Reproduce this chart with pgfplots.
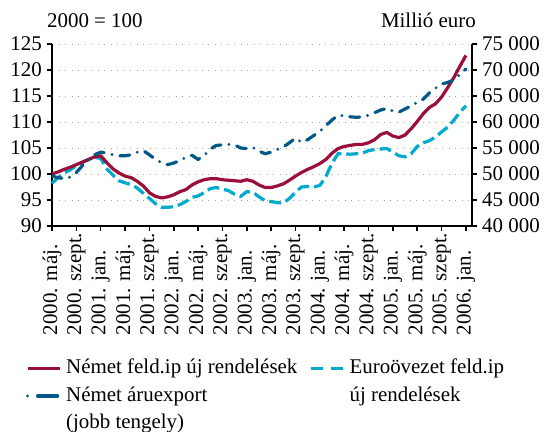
\documentclass[border=0pt]{standalone}
\usepackage{pgfplots}
\usepackage{pgfplotstable}
\pgfplotsset{compat=1.18}
\usepackage{fontspec}
\setmainfont{Liberation Serif}
\definecolor{cred}{RGB}{155,15,58}
\definecolor{ccyan}{RGB}{0,170,204}
\definecolor{cblue}{RGB}{0,88,135}
\newcommand{\xl}[1]{\makebox[104bp][l]{#1}}

\pgfplotstableread{
m  nemet  euro   export
0  100.0  98.2   49600
1  100.4  99.3   49300
2  100.9  100.2  49100
3  101.3  100.8  49400
4  101.8  101.6  50300
5  102.3  102.2  51600
6  102.8  102.8  52700
7  103.3  103.2  53700
8  103.5  103.0  54200
9  102.2  101.0  54000
10 101.0  99.8   53700
11 100.2  98.7   53500
12 99.6   98.3   53500
13 99.3   98.0   53700
14 98.6   97.3   54200
15 97.7   96.3   54500
16 96.4   95.3   53700
17 95.7   94.3   52800
18 95.4   93.6   52200
19 95.6   93.6   51800
20 96.0   93.7   52100
21 96.6   94.1   52600
22 97.0   94.7   53200
23 97.9   95.5   53600
24 98.5   95.8   52800
25 98.9   96.4   53600
26 99.1   97.2   54800
27 99.1   97.4   55500
28 98.9   97.1   55600
29 98.8   96.8   55700
30 98.7   96.1   55600
31 98.6   95.7   55000
32 98.9   96.6   54900
33 98.6   96.5   55100
34 97.9   95.6   54400
35 97.4   94.9   53900
36 97.4   94.7   54200
37 97.7   94.5   54700
38 98.1   94.4   55200
39 98.8   95.3   56000
40 99.6   96.5   56900
41 100.3  97.5   56100
42 100.9  97.6   56600
43 101.4  97.5   57400
44 102.0  97.8   58200
45 102.8  99.5   59300
46 104.0  102.1  60400
47 104.9  103.9  61300
48 105.3  103.9  61200
49 105.5  103.8  61000
50 105.7  103.9  60900
51 105.7  104.0  61000
52 106.0  104.5  61300
53 106.6  104.7  61800
54 107.6  104.8  62300
55 108.0  104.9  62600
56 107.3  104.2  62100
57 107.0  103.5  61900
58 107.5  103.3  62500
59 108.7  103.9  63100
60 110.1  105.3  63800
61 111.6  106.0  64400
62 112.8  106.4  65600
63 113.5  107.1  66500
64 114.8  108.1  67300
65 116.6  109.0  67600
66 118.5  110.3  68100
67 120.7  111.9  69100
68 122.8  113.1  70200
}\datatable

\pgfplotsset{
  common/.style={
    at={(0bp,0bp)}, anchor=south west,
    scale only axis, width=420bp, height=182bp,
    xmin=0, xmax=69,
    axis line style={-, line width=2.2bp, black},
    tick align=outside, major tick length=5bp,
    tick style={line width=1.6bp, black},
    tick label style={font=\fontsize{21}{25}\selectfont},
    /pgf/number format/assume math mode=true,
  },
  legend image code/.code={\draw[#1] (0bp,0bp) -- (32bp,0bp);},
}

\begin{document}
\begin{tikzpicture}
\useasboundingbox (-52bp,-206bp) rectangle (495bp,226bp);
\begin{axis}[common,
  clip=false,
  ymin=90, ymax=125,
  axis x line*=bottom, axis y line*=left,
  ytick={90,95,...,125},
  xtick={0,4,...,68},
  xticklabels={\xl{2000. máj.},\xl{2000. szept.},\xl{2001. jan.},\xl{2001. máj.},\xl{2001. szept.},\xl{2002. jan.},\xl{2002. máj.},\xl{2002. szept.},\xl{2003. jan.},\xl{2003. máj.},\xl{2003. szept.},\xl{2004. jan.},\xl{2004. máj.},\xl{2004. szept.},\xl{2005. jan.},\xl{2005. máj.},\xl{2005. szept.},\xl{2006. jan.}},
  xticklabel style={rotate=90, anchor=east, inner sep=0pt},
  yticklabel style={inner sep=0pt, xshift=-5bp},
  ymajorgrids,
  major grid style={gray!70, line width=1bp, dash pattern=on 1bp off 5.5bp},
  legend columns=2,
  legend cell align=left,
  legend style={at={(-0.0619,-0.725)}, anchor=north west, draw=none, fill=none,
    inner sep=0pt, outer sep=0pt,
    font=\fontsize{21}{25}\selectfont,
    nodes={inner sep=0pt, text height=16bp, text depth=5bp},
    row sep=6.5bp,
    /tikz/every odd column/.append style={column sep=5bp},
    /tikz/every even column/.append style={column sep=12bp}},
]
\addplot[forget plot, ccyan, line width=3.2bp, dash pattern=on 12bp off 5bp] table[x=m, y=euro] {\datatable};
\addplot[forget plot, cred, line width=3.2bp, line join=round] table[x=m, y=nemet] {\datatable};
\addlegendimage{cred, line width=3.2bp}
\addlegendentry{Német feld.ip új rendelések}
\addlegendimage{ccyan, line width=3.2bp, dash pattern=on 12bp off 8bp}
\addlegendentry{Euroövezet feld.ip}
\addlegendimage{cblue, line width=3.2bp, line cap=round, dash pattern=on 0bp off 10bp on 20bp off 50bp}
\addlegendentry{Német áruexport}
\addlegendimage{empty legend}
\addlegendentry{új rendelések}
\addlegendimage{empty legend}
\addlegendentry{(jobb tengely)}
\node[anchor=base west, font=\fontsize{21}{25}\selectfont, inner sep=0pt] at (axis description cs:-0.012,1.088) {2000 = 100};
\node[anchor=base east, font=\fontsize{21}{25}\selectfont, inner sep=0pt] at (axis description cs:1.0095,1.088) {Millió euro};
\end{axis}
\begin{axis}[common,
  ymin=40000, ymax=75000,
  scaled y ticks=false,
  axis x line=none, axis y line*=right,
  ytick={40000,45000,...,75000},
  yticklabels={40 000,45 000,50 000,55 000,60 000,65 000,70 000,75 000},
  yticklabel style={inner sep=0pt, xshift=5bp, anchor=west},
]
\addplot[cblue, line width=3.2bp, line cap=round, line join=round, dash pattern=on 10bp off 8bp on 0bp off 8bp] table[x=m, y=export] {\datatable};
\end{axis}
\end{tikzpicture}
\end{document}
